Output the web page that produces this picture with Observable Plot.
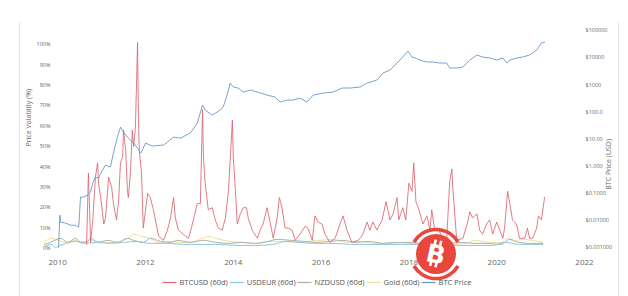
<!DOCTYPE html>
<html>
<head>
<meta charset="utf-8">
<script src="https://cdn.jsdelivr.net/npm/d3@7"></script>
<script src="https://cdn.jsdelivr.net/npm/@observablehq/plot@0.6"></script>
<style>
  html, body { margin: 0; padding: 0; background: #fff; }
  #wrap { position: relative; width: 628px; height: 296px; overflow: hidden; font-family: "Open Sans", "DejaVu Sans", sans-serif; }
  #frame { position: absolute; left: 19px; top: 22px; width: 598px; height: 280px; border-left: 1px solid #e4e4e4; border-right: 1px solid #e4e4e4; }
  .layer { position: absolute; left: 0; top: 0; }
  #legend { position: absolute; top: 277px; left: 0; width: 628px; height: 10px; }
  #logo { position: absolute; left: 404px; top: 221px; }
</style>
</head>
<body>
<div id="wrap">
  <div id="frame"></div>
  <div id="p1" class="layer"></div>
  <div id="p2" class="layer"></div>
  <svg id="legend" width="628" height="12"></svg>
  <svg id="logo" width="64" height="66" viewBox="0 0 64 66">
    <path d="M 10 21 A 25.5 25.5 0 0 1 54 21" fill="none" stroke="#e9463e" stroke-width="3.5"/>
    <path d="M 54 45 A 25.5 25.5 0 0 1 10 45" fill="none" stroke="#e9463e" stroke-width="3.5"/>
    <circle cx="32" cy="33" r="20" fill="#e9463e"/>
    <g transform="rotate(12 32 33)">
      <text x="32" y="42" text-anchor="middle" font-family="DejaVu Sans, sans-serif" font-weight="bold" font-size="25" fill="#fff">B</text>
      <rect x="27.5" y="19" width="2.6" height="5" fill="#fff"/>
      <rect x="33" y="19" width="2.6" height="5" fill="#fff"/>
      <rect x="27.5" y="41" width="2.6" height="5" fill="#fff"/>
      <rect x="33" y="41" width="2.6" height="5" fill="#fff"/>
    </g>
  </svg>
</div>
<script>
// ---- tick values / labels ----
const xTicks = [2010, 2012, 2014, 2016, 2018, 2020, 2022];
const volTicks = [0, 10, 20, 30, 40, 50, 60, 70, 80, 90, 100];
const priceTicks = [0.001, 0.01, 0.1, 1, 10, 100, 1000, 10000, 100000];
const priceTickLabels = ["$0.001000", "$0.01000", "$0.1000", "$1.000", "$10.00", "$100.0", "$1000", "$10000", "$100000"];

// ---- series names / colours ----
const seriesNames = ["BTCUSD (60d)", "USDEUR (60d)", "NZDUSD (60d)", "Gold (60d)", "BTC Price"];
const seriesColors = ["#dc6470", "#8ec6df", "#aab1aa", "#efe09e", "#6391c4"];

// ---- BTCUSD 60-day volatility (%) ----
const btcVolYear = [2010.66,2010.70,2010.75,2010.80,2010.86,2010.91,2010.93,2010.98,2011.05,2011.09,2011.16,2011.23,2011.27,2011.34,2011.39,2011.43,2011.48,2011.50,2011.55,2011.59,2011.61,2011.66,2011.70,2011.73,2011.77,2011.82,2011.84,2011.86,2011.91,2011.95,2012.05,2012.11,2012.18,2012.30,2012.41,2012.50,2012.57,2012.64,2012.68,2012.75,2012.86,2012.98,2013.07,2013.18,2013.25,2013.30,2013.32,2013.36,2013.43,2013.52,2013.59,2013.66,2013.75,2013.82,2013.89,2013.98,2014.00,2014.05,2014.09,2014.16,2014.23,2014.30,2014.34,2014.43,2014.55,2014.61,2014.68,2014.77,2014.82,2014.91,2015.00,2015.05,2015.11,2015.18,2015.25,2015.34,2015.41,2015.52,2015.64,2015.70,2015.80,2015.86,2015.93,2016.02,2016.09,2016.20,2016.32,2016.43,2016.50,2016.59,2016.70,2016.84,2016.89,2016.95,2017.05,2017.11,2017.18,2017.27,2017.39,2017.48,2017.57,2017.64,2017.73,2017.77,2017.86,2017.93,2018.00,2018.07,2018.11,2018.16,2018.23,2018.32,2018.41,2018.48,2018.52,2018.59,2018.66,2018.77,2018.86,2018.93,2018.98,2019.00,2019.09,2019.23,2019.34,2019.39,2019.45,2019.55,2019.61,2019.68,2019.77,2019.84,2019.91,2020.00,2020.07,2020.14,2020.18,2020.25,2020.30,2020.36,2020.45,2020.52,2020.64,2020.70,2020.75,2020.82,2020.91,2020.95,2021.02,2021.09];
const btcVol = [2,37,3,14,35,42,32,25,12,15,35,30,22,14,24,42,45,58,48,28,25,38,58,50,59,101,64,48,37,10,27,25,19,6,4,9,15,25,15,9,7,5,12,22,22,68,45,32,19,20,14,10,9,15,28,63,45,28,12,17,20,20,15,9,5,9,12,20,15,5,15,25,20,10,10,9,4,7,11,10,4,16,13,12,7,3,5,12,16,9,3,4,5,7,13,9,13,9,14,23,14,17,25,14,20,14,32,28,42,23,19,12,16,9,19,9,10,5,4,33,39,30,4,5,13,18,15,17,9,7,12,14,7,13,9,5,10,28,22,14,12,5,5,10,5,5,10,16,14,25];

// ---- USDEUR 60-day volatility (%) ----
const eurYear = [2009.70,2009.85,2009.95,2010.05,2010.20,2010.40,2010.60,2010.90,2011.20,2011.50,2011.80,2012.10,2012.50,2012.90,2013.30,2013.70,2014.10,2014.50,2014.90,2015.20,2015.50,2015.90,2016.30,2016.70,2017.10,2017.50,2017.90,2018.30,2018.70,2019.10,2019.50,2019.90,2020.20,2020.50,2020.80,2021.05];
const eurVol = [1,2,0.5,1.5,2.5,3.5,2.5,3,2.5,3,3.5,2.5,2.5,2,2,2,1.5,1.5,2,3.5,3,2.5,2.5,2,2,2,2,2,2,1.5,1.5,1.5,3,2,2,2];

// ---- NZDUSD 60-day volatility (%) ----
const nzdYear = [2009.70,2009.84,2010.07,2010.23,2010.41,2010.52,2010.68,2010.75,2010.91,2011.14,2011.36,2011.59,2011.73,2011.95,2012.11,2012.34,2012.57,2012.73,2013.02,2013.32,2013.60,2013.90,2014.20,2014.50,2014.80,2015.00,2015.30,2015.60,2015.90,2016.20,2016.50,2016.80,2017.10,2017.40,2017.70,2018.00,2018.30,2018.60,2018.90,2019.20,2019.50,2019.80,2020.10,2020.30,2020.50,2020.80,2021.05];
const nzdVol = [2,3,5,3,5,3,3.5,5,3,4,3,5,4,3,5,3.5,3,4,3,4,3,2.5,3,2.5,3.5,4.5,4,3.5,3,3.5,4,3,3.5,2.5,3,3,2.5,3,2.5,3,2.5,2.5,2,4.5,3,2.5,2.5];

// ---- Gold 60-day volatility (%) ----
const goldYear = [2009.70,2009.85,2010.00,2010.20,2010.40,2010.60,2010.80,2011.00,2011.30,2011.60,2011.75,2011.90,2012.10,2012.30,2012.50,2012.80,2013.00,2013.30,2013.45,2013.60,2013.90,2014.20,2014.50,2014.80,2015.10,2015.40,2015.70,2016.00,2016.30,2016.60,2016.90,2017.20,2017.50,2017.80,2018.10,2018.40,2018.70,2019.00,2019.30,2019.50,2019.80,2020.10,2020.25,2020.40,2020.60,2020.80,2021.05];
const goldVol = [3,5,4,3,4,3,4,3,3,5,7,6,5,3,3.5,3,3,5,6,5,3.5,3,2.5,3.5,3.5,3,3.5,4,4.5,3,3.5,2.5,2.5,2,2.5,2,2.5,2,2.5,4,3,3,5,3.5,4.5,4,3];

// ---- BTC price (USD, log axis) ----
const priceYear = [2010.02,2010.05,2010.07,2010.18,2010.30,2010.41,2010.48,2010.52,2010.59,2010.68,2010.75,2010.80,2010.86,2010.93,2011.02,2011.09,2011.20,2011.27,2011.36,2011.43,2011.50,2011.59,2011.66,2011.73,2011.82,2011.89,2011.93,2012.00,2012.11,2012.18,2012.34,2012.41,2012.64,2012.80,2013.02,2013.18,2013.30,2013.36,2013.52,2013.70,2013.77,2013.86,2013.93,2014.00,2014.11,2014.23,2014.39,2014.55,2014.77,2014.95,2015.07,2015.23,2015.36,2015.52,2015.68,2015.82,2016.05,2016.27,2016.48,2016.66,2016.89,2017.05,2017.27,2017.41,2017.57,2017.73,2017.86,2017.98,2018.07,2018.14,2018.25,2018.41,2018.55,2018.70,2018.86,2018.93,2019.09,2019.23,2019.39,2019.55,2019.68,2019.84,2020.00,2020.14,2020.23,2020.30,2020.45,2020.59,2020.75,2020.91,2021.02,2021.09];
const priceUsd = [0.001,0.0155,0.0086,0.0079,0.0066,0.0066,0.0056,0.072,0.072,0.085,0.11,0.24,0.39,0.36,0.71,1.09,0.92,3.0,11.7,27.5,17.9,11.7,9.1,7.1,4.6,3.0,3.9,7.1,5.9,5.5,5.9,5.9,11.7,10.8,16.5,38.6,178,116,76,116,150,417,1150,826,756,537,638,537,417,353,230,273,273,323,230,417,494,537,756,756,826,1150,1490,2700,3480,6320,10500,17500,10500,9700,8160,6900,6900,6320,6320,4150,4150,4500,8160,12500,10500,9700,8160,9700,6320,8160,9700,10500,12500,19000,34600,37600];

// ---- build tables ----
const toRows = (xs, ys) => xs.map((x, i) => ({x, y: ys[i]}));
const btcRows = toRows(btcVolYear, btcVol);
const eurRows = toRows(eurYear, eurVol);
const nzdRows = toRows(nzdYear, nzdVol);
const goldRows = toRows(goldYear, goldVol);
const priceRows = toRows(priceYear, priceUsd);

const W = 628, H = 272;
const font = '"Open Sans", "DejaVu Sans", sans-serif';

const p1 = Plot.plot({
  width: W, height: H,
  marginLeft: 44, marginRight: 44, marginTop: 44, marginBottom: 24,
  style: {background: "transparent", fontFamily: font, color: "#666", overflow: "visible"},
  x: {domain: [2009.7, 2022]},
  y: {domain: [0, 100]},
  marks: [
    Plot.axisX({ticks: xTicks, tickSize: 0, tickPadding: 11, tickFormat: d => String(d), fontSize: 8, label: null}),
    Plot.axisY({ticks: volTicks, tickSize: 0, tickPadding: -6, tickFormat: d => d + "%", fontSize: 5.5, label: null}),
    Plot.text(["Price Volatility (%)"], {frameAnchor: "left", dx: -16, rotate: -90, fontSize: 7, fill: "#666"}),
    Plot.line(goldRows, {x: "x", y: "y", stroke: seriesColors[3], strokeWidth: 1, curve: "monotone-x"}),
    Plot.line(nzdRows, {x: "x", y: "y", stroke: seriesColors[2], strokeWidth: 1, curve: "monotone-x"}),
    Plot.line(eurRows, {x: "x", y: "y", stroke: seriesColors[1], strokeWidth: 1, curve: "monotone-x"}),
    Plot.line(btcRows, {x: "x", y: "y", stroke: seriesColors[0], strokeWidth: 0.85})
  ]
});
document.getElementById("p1").appendChild(p1);

const p2 = Plot.plot({
  width: W, height: H,
  marginLeft: 44, marginRight: 44, marginTop: 30, marginBottom: 25,
  style: {background: "transparent", fontFamily: font, color: "#666", overflow: "visible"},
  x: {domain: [2009.7, 2022], axis: null},
  y: {type: "log", domain: [0.001, 100000]},
  marks: [
    Plot.axisY({anchor: "right", ticks: priceTicks, tickSize: 0, tickPadding: 1,
      tickFormat: d => priceTickLabels[priceTicks.indexOf(d)], fontSize: 5.5, label: null}),
    Plot.text(["BTC Price (USD)"], {frameAnchor: "right", dx: 24, rotate: -90, fontSize: 7, fill: "#666"}),
    Plot.line(priceRows, {x: "x", y: "y", stroke: seriesColors[4], strokeWidth: 0.85})
  ]
});
document.getElementById("p2").appendChild(p2);

// ---- legend (SVG line swatches + labels) ----
const lg = d3.select("#legend");
const tmp = lg.append("text").attr("font-size", 7.5).attr("font-family", font);
const widths = seriesNames.map(n => { tmp.text(n); return tmp.node().getComputedTextLength(); });
tmp.remove();
const swW = 14, gapA = 3, gapB = 2;
const total = d3.sum(widths) + seriesNames.length * (swW + gapA + gapB);
let cx = (628 - total) / 2 + 4;
seriesNames.forEach((name, i) => {
  lg.append("line").attr("x1", cx).attr("x2", cx + swW).attr("y1", 5.5).attr("y2", 5.5)
    .attr("stroke", seriesColors[i]).attr("stroke-width", 1.2);
  cx += swW + gapA;
  lg.append("text").attr("x", cx).attr("y", 8).attr("font-size", 7.5)
    .attr("font-family", font).attr("fill", "#555").text(name);
  cx += widths[i] + gapB;
});
</script>
</body>
</html>
